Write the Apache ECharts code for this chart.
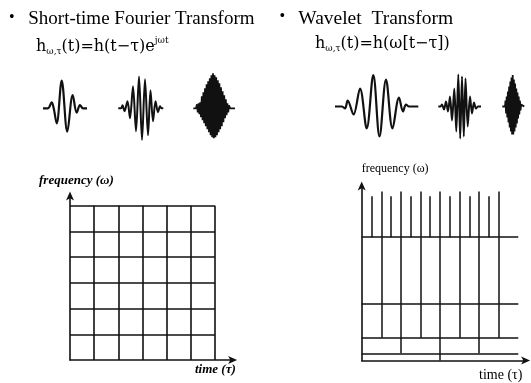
<!DOCTYPE html>
<html>
<head>
<meta charset="utf-8">
<script src="https://cdn.jsdelivr.net/npm/echarts@6/dist/echarts.min.js"></script>
<style>
html,body{margin:0;padding:0;background:#fff;}
#c{width:531px;height:383px;}
</style>
</head>
<body>
<div id="c"></div>
<script>
// ---- data ----
// STFT tiling: uniform cells
const stftTau = [0, 1, 2, 3, 4, 5, 6];
const stftOmega = [0, 1, 2, 3, 4, 5, 6];

// Wavelet tiling: band edges (frequency) and time splits per band
const wtBandEdges = [0, 0.95, 3, 7.4, 16.2];
const wtBandSplits = [[4], [2, 4, 6], [1, 2, 3, 4, 5, 6, 7], [1, 2, 3, 4, 5, 6, 7]];
const wtTauEnd = 8;
const wtSpikeTall = [1, 2, 3, 4, 5, 6, 7];
const wtSpikeTallTop = 22.2;
const wtSpikeShort = [0.5, 1.5, 2.5, 3.5, 4.5, 5.5, 6.5];
const wtSpikeShortTop = 21.6;

// Wavelet shapes [t, amplitude]
const wave1 = [[3,0],[8,0],[11.7,6],[13.7,0],[16.7,-15],[21.7,27.6],[27.3,-23.4],[32.7,13.3],[36.7,-4.4],[40,3.3],[43,0],[47,0]];
const wave2 = [[78.3,0],[81,0],[82.5,3],[84.5,-3],[87.5,7],[90,-10],[93,22],[96,-23],[99,31.7],[102,-31.6],[105,29],[108,-27],[110.5,18],[113,-13],[115.5,7],[118,-4],[120,2],[121.5,0],[123.3,0]];
const wave3 = [[153.3,0],[156,0],[157,4],[157.8,-4],[158.6,5],[159.4,-6],[160.2,6],[161,-9],[161.8,12],[162.6,-12],[163.4,16],[164.2,-15],[165,20],[165.8,-18],[166.6,24],[167.4,-21],[168.2,27],[169,-24],[169.8,30],[170.6,-27],[171.4,33],[172.2,-29],[173,35],[173.8,-30],[174.6,33],[175.4,-29],[176.2,31],[177,-27],[177.8,28],[178.6,-24],[179.4,25],[180.2,-21],[181,21],[181.8,-18],[182.6,17],[183.4,-14],[184.2,13],[185,-10],[185.8,9],[186.6,-7],[187.4,5],[188.2,-4],[189,3],[190,0],[195,0]];
const wave4 = [[5,0],[12,0],[15,-2],[17.7,6],[23.5,-8],[30,18],[36.7,-22],[43.3,31.5],[49.5,-30],[56,27],[62.5,-22],[69,9],[73,-5],[76,2],[79,0],[88.3,0]];
const wave5 = [[108.3,0],[110.5,0],[112,2],[114,-3],[116,5],[118,-5],[120,10],[122,-14],[124.3,18],[126.3,-25],[128.3,32],[130.2,-32],[132,30],[133.8,-30],[135.5,28],[137.7,-20],[140,10],[142,-7],[144,4],[146,-2],[148,0],[151,0]];
const wave6 = [[172.3,0],[175,0],[175.5,6],[176.1,-7],[176.7,10],[177.3,-11],[177.9,15],[178.5,-16],[179.1,20],[179.7,-21],[180.3,25],[180.9,-25],[181.5,29],[182.1,-28],[182.7,31.5],[183.3,-28],[183.9,27],[184.5,-25],[185.1,23],[185.7,-21],[186.3,18],[186.9,-17],[187.5,14],[188.1,-12],[188.7,10],[189.3,-8],[189.9,6],[190.5,-4],[191.1,2],[191.7,0],[194.3,0]];

// ---- build segments ----
const ink = '#111';
const stftSegs = [];
const tMax = stftTau[stftTau.length - 1], wMax = stftOmega[stftOmega.length - 1];
stftOmega.forEach(w => { if (w > 0) stftSegs.push({coords: [[0, w], [tMax, w]]}); });
stftTau.forEach(t => { if (t > 0) stftSegs.push({coords: [[t, 0], [t, wMax]]}); });

const wtSegs = [];
wtBandEdges.forEach((e, i) => { if (i > 0) wtSegs.push({coords: [[0, e], [wtTauEnd, e]]}); });
wtBandSplits.forEach((splits, i) => {
  const lo = wtBandEdges[i], hi = wtBandEdges[i + 1];
  splits.forEach(t => wtSegs.push({coords: [[t, lo], [t, hi]]}));
});
const topEdge = wtBandEdges[wtBandEdges.length - 1];
wtSpikeTall.forEach(t => wtSegs.push({coords: [[t, topEdge], [t, wtSpikeTallTop]]}));
wtSpikeShort.forEach(t => wtSegs.push({coords: [[t, topEdge], [t, wtSpikeShortTop]]}));

// ---- chart ----
const chart = echarts.init(document.getElementById('c'), null, {renderer: 'canvas'});

const arrowAxis = (gi, min, max) => ({
  gridIndex: gi, type: 'value', min: min, max: max,
  axisLine: {show: true, onZero: false, symbol: ['none', 'arrow'], symbolSize: [6, 9], symbolOffset: [0, 4], lineStyle: {color: ink, width: 1.6}},
  axisTick: {show: false}, axisLabel: {show: false}, splitLine: {show: false}
});
const hiddenAxis = (gi, min, max) => ({
  gridIndex: gi, type: 'value', min: min, max: max, show: false,
  axisLine: {show: false}, axisTick: {show: false}, axisLabel: {show: false}, splitLine: {show: false}
});

const serif = 'Liberation Serif';
const fserif = 'DejaVu Serif';

chart.setOption({
  animation: false,
  backgroundColor: '#fff',
  grid: [
    {left: 70, top: 195.4, width: 163.1, height: 164.6},      // STFT tiling
    {left: 361.7, top: 185.5, width: 164.4, height: 175},     // wavelet tiling
    {left: 40, top: 70, width: 200, height: 75},              // left wavelets
    {left: 330, top: 70, width: 200, height: 75}              // right wavelets
  ],
  xAxis: [
    arrowAxis(0, 0, 6.75),
    arrowAxis(1, 0, 8.4),
    hiddenAxis(2, 0, 200),
    hiddenAxis(3, 0, 200)
  ],
  yAxis: [
    arrowAxis(0, 0, 6.4),
    arrowAxis(1, 0, 23),
    hiddenAxis(2, -36.7, 38.3),
    hiddenAxis(3, -38.5, 36.5)
  ],
  series: [
    {type: 'lines', coordinateSystem: 'cartesian2d', xAxisIndex: 0, yAxisIndex: 0, data: stftSegs,
     lineStyle: {color: ink, width: 1.6, opacity: 1}, silent: true},
    {type: 'lines', coordinateSystem: 'cartesian2d', xAxisIndex: 1, yAxisIndex: 1, data: wtSegs,
     lineStyle: {color: ink, width: 1.5, opacity: 1}, silent: true},
    {type: 'line', xAxisIndex: 2, yAxisIndex: 2, data: wave1, showSymbol: false, smooth: 0.35, lineStyle: {color: ink, width: 2.2}},
    {type: 'line', xAxisIndex: 2, yAxisIndex: 2, data: wave2, showSymbol: false, smooth: 0.3, lineStyle: {color: ink, width: 2}},
    {type: 'line', xAxisIndex: 2, yAxisIndex: 2, data: wave3, showSymbol: false, smooth: false, lineStyle: {color: ink, width: 1.8}},
    {type: 'line', xAxisIndex: 3, yAxisIndex: 3, data: wave4, showSymbol: false, smooth: 0.35, lineStyle: {color: ink, width: 2.2}},
    {type: 'line', xAxisIndex: 3, yAxisIndex: 3, data: wave5, showSymbol: false, smooth: 0.3, lineStyle: {color: ink, width: 2}},
    {type: 'line', xAxisIndex: 3, yAxisIndex: 3, data: wave6, showSymbol: false, smooth: false, lineStyle: {color: ink, width: 1.8}}
  ],
  graphic: [
    {type: 'text', x: 11.7, y: 18, style: {text: '•', font: '16px ' + serif, fill: '#000', align: 'center', verticalAlign: 'middle'}},
    {type: 'text', x: 28.3, y: 18.6, style: {text: 'Short-time Fourier Transform', font: '19px "' + serif + '"', fill: '#000', align: 'left', verticalAlign: 'middle'}},
    {type: 'text', x: 282.3, y: 17, style: {text: '•', font: '16px ' + serif, fill: '#000', align: 'center', verticalAlign: 'middle'}},
    {type: 'text', x: 298.3, y: 18.6, style: {text: 'Wavelet  Transform', font: '19.5px "' + serif + '"', fill: '#000', align: 'left', verticalAlign: 'middle'}},
    {type: 'text', x: 36, y: 36.5, style: {
      text: '{m|h}{s|ω,τ}{m|(t)=h(t−τ)e}{p|jωt}',
      rich: {
        m: {fontSize: 16, fontFamily: fserif, lineHeight: 20, fill: '#000'},
        s: {fontSize: 9, fontFamily: fserif, lineHeight: 10, verticalAlign: 'bottom', fill: '#000'},
        p: {fontSize: 9, fontFamily: fserif, lineHeight: 9, verticalAlign: 'top', fill: '#000'}
      }}},
    {type: 'text', x: 315, y: 33.5, style: {
      text: '{m|h}{s|ω,τ}{m|(t)=h(ω[t−τ])}',
      rich: {
        m: {fontSize: 16, fontFamily: fserif, lineHeight: 20, fill: '#000'},
        s: {fontSize: 9, fontFamily: fserif, lineHeight: 10, verticalAlign: 'bottom', fill: '#000'}
      }}},
    {type: 'text', x: 39, y: 181, style: {text: 'frequency (ω)', font: 'italic bold 13px "' + serif + '"', fill: '#000', align: 'left', verticalAlign: 'middle'}},
    {type: 'text', x: 195, y: 370, style: {text: 'time (τ)', font: 'italic bold 13px "' + serif + '"', fill: '#000', align: 'left', verticalAlign: 'middle'}},
    {type: 'text', x: 361.7, y: 168.5, style: {text: 'frequency (ω)', font: '12px "' + serif + '"', fill: '#000', align: 'left', verticalAlign: 'middle'}},
    {type: 'text', x: 479, y: 375, style: {text: 'time (τ)', font: '14px "' + serif + '"', fill: '#000', align: 'left', verticalAlign: 'middle'}}
  ]
});
</script>
</body>
</html>
